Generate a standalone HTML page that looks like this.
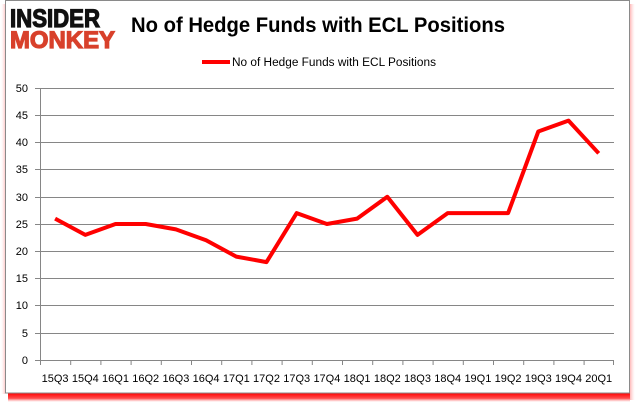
<!DOCTYPE html>
<html>
<head>
<meta charset="utf-8">
<style>
  html,body{margin:0;padding:0;background:#fff;}
  body{width:635px;height:405px;overflow:hidden;}
  svg{display:block;}
  text{font-family:"Liberation Sans",sans-serif;}
</style>
</head>
<body>
<svg width="635" height="405" viewBox="0 0 635 405" xmlns="http://www.w3.org/2000/svg">
  <defs>
    <linearGradient id="shb" x1="0" y1="0" x2="0" y2="1">
      <stop offset="0" stop-color="#ff0000" stop-opacity="1"/>
      <stop offset="0.6" stop-color="#ff2020" stop-opacity="0.8"/>
      <stop offset="1" stop-color="#ff8080" stop-opacity="0"/>
    </linearGradient>
    <linearGradient id="shr" x1="0" y1="0" x2="1" y2="0">
      <stop offset="0" stop-color="#ffb0b0" stop-opacity="0.9"/>
      <stop offset="1" stop-color="#ffe0e0" stop-opacity="0"/>
    </linearGradient>
    <linearGradient id="shl" x1="1" y1="0" x2="0" y2="0">
      <stop offset="0" stop-color="#ffc0c0" stop-opacity="0.8"/>
      <stop offset="1" stop-color="#ffe8e8" stop-opacity="0"/>
    </linearGradient>
  </defs>
  <rect x="0" y="0" width="635" height="405" fill="#fff"/>
  <!-- shadows -->
  <rect x="8" y="393" width="622" height="9" fill="url(#shb)"/>
  <rect x="630" y="4" width="5" height="396" fill="url(#shr)"/>
  <rect x="1" y="4" width="4" height="390" fill="url(#shl)"/>
  <!-- frame -->
  <rect x="5.5" y="0.5" width="624" height="392.5" fill="#fff" stroke="#8a8a8a" stroke-width="1"/>

  <!-- logo -->
  <text x="10" y="27" font-size="25" font-weight="bold" fill="#111" stroke="#111" stroke-width="1.2" textLength="90" lengthAdjust="spacingAndGlyphs">INSIDER</text>
  <text x="10" y="48" font-size="24" font-weight="bold" fill="#d8402b" stroke="#d8402b" stroke-width="1.2" textLength="105" lengthAdjust="spacingAndGlyphs">MONKEY</text>

  <!-- title -->
  <text x="131" y="32" font-size="21" font-weight="bold" fill="#000" textLength="374" lengthAdjust="spacingAndGlyphs">No of Hedge Funds with ECL Positions</text>

  <!-- legend -->
  <line x1="202" y1="62" x2="230" y2="62" stroke="#ff0000" stroke-width="4"/>
  <text x="232" y="66" font-size="11.5" fill="#000" textLength="204" lengthAdjust="spacingAndGlyphs">No of Hedge Funds with ECL Positions</text>

  <!-- gridlines -->
  <g stroke="#868686" stroke-width="1">
    <line x1="35" y1="88.5" x2="614" y2="88.5"/>
    <line x1="35" y1="115.5" x2="614" y2="115.5"/>
    <line x1="35" y1="142.5" x2="614" y2="142.5"/>
    <line x1="35" y1="169.5" x2="614" y2="169.5"/>
    <line x1="35" y1="197.5" x2="614" y2="197.5"/>
    <line x1="35" y1="224.5" x2="614" y2="224.5"/>
    <line x1="35" y1="251.5" x2="614" y2="251.5"/>
    <line x1="35" y1="278.5" x2="614" y2="278.5"/>
    <line x1="35" y1="305.5" x2="614" y2="305.5"/>
    <line x1="35" y1="333.5" x2="614" y2="333.5"/>
    <line x1="35" y1="360.5" x2="614" y2="360.5"/>
    <line x1="40.5" y1="88" x2="40.5" y2="365"/>
  </g>
  <!-- x ticks -->
  <g stroke="#868686" stroke-width="1">
    <line x1="70.7" y1="360" x2="70.7" y2="365"/>
    <line x1="100.9" y1="360" x2="100.9" y2="365"/>
    <line x1="131.1" y1="360" x2="131.1" y2="365"/>
    <line x1="161.3" y1="360" x2="161.3" y2="365"/>
    <line x1="191.5" y1="360" x2="191.5" y2="365"/>
    <line x1="221.7" y1="360" x2="221.7" y2="365"/>
    <line x1="251.9" y1="360" x2="251.9" y2="365"/>
    <line x1="282.1" y1="360" x2="282.1" y2="365"/>
    <line x1="312.3" y1="360" x2="312.3" y2="365"/>
    <line x1="342.5" y1="360" x2="342.5" y2="365"/>
    <line x1="372.7" y1="360" x2="372.7" y2="365"/>
    <line x1="402.9" y1="360" x2="402.9" y2="365"/>
    <line x1="433.1" y1="360" x2="433.1" y2="365"/>
    <line x1="463.3" y1="360" x2="463.3" y2="365"/>
    <line x1="493.5" y1="360" x2="493.5" y2="365"/>
    <line x1="523.7" y1="360" x2="523.7" y2="365"/>
    <line x1="553.9" y1="360" x2="553.9" y2="365"/>
    <line x1="584.1" y1="360" x2="584.1" y2="365"/>
    <line x1="613.5" y1="360" x2="613.5" y2="365"/>
  </g>

  <!-- y labels -->
  <g font-size="11" fill="#000" text-anchor="end">
    <text x="28" y="92">50</text>
    <text x="28" y="119">45</text>
    <text x="28" y="146">40</text>
    <text x="28" y="173">35</text>
    <text x="28" y="201">30</text>
    <text x="28" y="228">25</text>
    <text x="28" y="255">20</text>
    <text x="28" y="282">15</text>
    <text x="28" y="309">10</text>
    <text x="28" y="337">5</text>
    <text x="28" y="364">0</text>
  </g>

  <!-- x labels -->
  <g font-size="11" fill="#000" text-anchor="middle">
    <text x="55.1" y="382">15Q3</text>
    <text x="85.3" y="382">15Q4</text>
    <text x="115.5" y="382">16Q1</text>
    <text x="145.7" y="382">16Q2</text>
    <text x="175.9" y="382">16Q3</text>
    <text x="206.1" y="382">16Q4</text>
    <text x="236.3" y="382">17Q1</text>
    <text x="266.5" y="382">17Q2</text>
    <text x="296.7" y="382">17Q3</text>
    <text x="326.9" y="382">17Q4</text>
    <text x="357.1" y="382">18Q1</text>
    <text x="387.3" y="382">18Q2</text>
    <text x="417.5" y="382">18Q3</text>
    <text x="447.7" y="382">18Q4</text>
    <text x="477.9" y="382">19Q1</text>
    <text x="508.1" y="382">19Q2</text>
    <text x="538.3" y="382">19Q3</text>
    <text x="568.5" y="382">19Q4</text>
    <text x="598.7" y="382">20Q1</text>
  </g>

  <!-- series: 26,23,25,25,24,22,19,18,27,25,26,30,23,27,27,27,42,44,38 -->
  <polyline fill="none" stroke="#ff0000" stroke-width="4" stroke-linejoin="round"
    points="55.1,218.6 85.3,234.9 115.5,224 145.7,224 175.9,229.4 206.1,240.3 236.3,256.6 266.5,262.1 296.7,213.1 326.9,224 357.1,218.6 387.3,196.8 417.5,234.9 447.7,213.1 477.9,213.1 508.1,213.1 538.3,131.5 568.5,120.6 598.7,153.3"/>
</svg>
</body>
</html>
